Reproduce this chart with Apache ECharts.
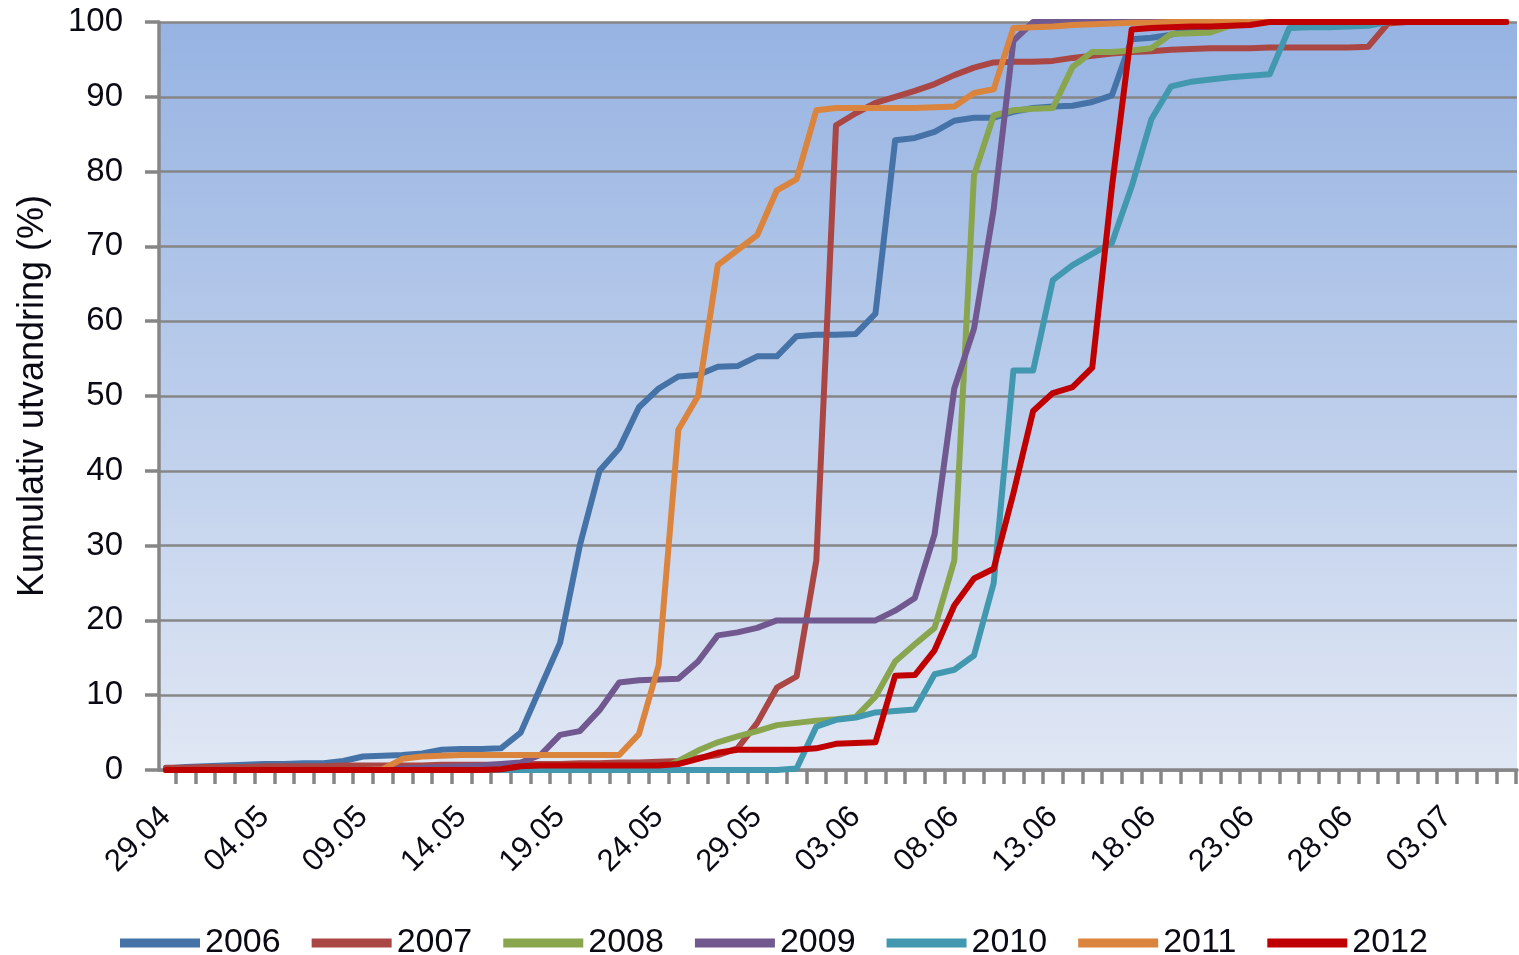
<!DOCTYPE html>
<html>
<head>
<meta charset="utf-8">
<script src="https://cdn.jsdelivr.net/npm/echarts@6/dist/echarts.min.js"></script>
<style>
html,body{margin:0;padding:0;background:#fff;}
#chart{width:1519px;height:955px;}
</style>
</head>
<body>
<div id="chart"></div>
<script>
// x: day index, 0 = 29.04 ... 68 = 06.07
const xLabels = ['29.04','04.05','09.05','14.05','19.05','24.05','29.05','03.06','08.06','13.06','18.06','23.06','28.06','03.07'];
const labelStep = 5;
const years = ['2006','2007','2008','2009','2010','2011','2012'];
const colors = ['#4572a7','#aa4643','#89a54e','#71588f','#4198af','#db843d','#c00000'];
const yTicks = [0,10,20,30,40,50,60,70,80,90,100];

const s2006 = [0.2,0.4,0.5,0.6,0.7,0.8,0.8,0.9,0.9,1.2,1.8,1.9,2.0,2.2,2.7,2.8,2.8,2.9,
  5.0,11,17,30,40,43,48.5,51,52.6,52.8,53.9,
  54,55.3,55.3,58,58.2,58.2,58.3,61,84.2,84.5,
  85.3,86.8,87.2,87.2,88,88.5,88.7,88.8,89.3,90.2,
  97.7,97.9,98.3,99,99.3,99.5,100,100,100,100,
  100,100,100,100,100,100,100,100,100,100];
const s2007 = [0.3,0.3,0.4,0.4,0.4,0.5,0.5,0.5,0.5,0.6,0.6,0.6,0.6,0.6,0.7,0.7,0.7,0.7,0.8,0.8,0.8,0.9,0.9,1.0,1.0,1.1,
  1.2,1.6,2.0,2.9,6.3,11,12.5,28,
  86.2,87.8,89.2,90,90.8,91.7,92.9,93.9,94.6,94.7,
  94.7,94.8,95.2,95.5,95.8,96,96.1,96.3,96.4,96.5,
  96.5,96.5,96.6,96.6,96.6,96.6,96.6,96.7,
  99.8,100,100,100,100,100,100];
const s2008 = [0,0,0,0,0,0,0,0,0,0,0,0,0,0,0,0,0,0,0,0,0,0,0,0,0,
  0.1,1.2,2.6,3.7,4.5,5.2,6.0,6.3,6.6,6.8,
  7.1,9.8,14.5,16.8,19,28,79.5,87.5,88.2,88.4,
  88.5,94,96,96,96.2,96.5,98.4,98.5,98.6,99.5,
  100,100,100,100,100,100,100,100,100,100,100,100,100,100];
const s2009 = [0,0,0,0,0,0,0,0,0,0,0,0.1,0.2,0.3,0.4,0.5,0.6,0.8,
  1.0,2.0,4.7,5.2,8.0,11.7,12.0,12.1,12.2,14.5,
  18,18.4,19,20,20,20,20,20,20,21.3,
  23,31.5,51,59,75,97.5,100,
  100,100,100,100,100,100,100,100,100,100,100,100,100,100,100,100,100,100,100,100,100,100,100,100];
const s2010 = [0,0,0,0,0,0,0,0,0,0,0,0,0,0,0,0,0,0,0,0,0,0,0,0,0,0,0,0,0,0,0,0,
  0.2,5.8,6.7,7.0,7.7,7.9,8.1,12.8,13.4,15.3,
  25,53.4,53.4,65.5,67.5,69,70.5,78,87,91.4,
  92,92.3,92.6,92.8,93,99.2,99.3,99.3,99.4,99.5,
  100,100,100,100,100,100,100];
const s2011 = [0,0,0,0,0,0,0,0,0,0,0,
  0.1,1.5,1.8,1.9,2.0,2.0,2.0,2.0,2.0,2.0,
  2.0,2.0,2.0,4.8,14,45.5,50,67.5,69.5,71.5,
  77.5,79,88.2,88.5,88.5,88.5,88.5,88.5,88.6,88.7,
  90.5,91,99.2,99.3,99.4,99.6,99.7,99.8,99.9,99.9,
  100,100,100,100,100,100,100,100,100,100,100,100,100,100,100,100,100,100];
const s2012 = [0,0,0,0,0,0,0,0,0,0,0,0,0,0,0,0,0,
  0.1,0.5,0.6,0.6,0.6,0.6,0.6,0.6,0.6,0.8,
  1.5,2.3,2.7,2.7,2.7,2.7,2.9,3.5,3.6,3.7,
  12.6,12.7,16,22,25.6,26.9,37,48,50.4,51.2,
  53.8,78,99,99.2,99.3,99.4,99.4,99.5,99.6,100,
  100,100,100,100,100,100,100,100,100,100,100,100];

const allSeries = [s2006,s2007,s2008,s2009,s2010,s2011,s2012];
const nDays = s2006.length;
const tickVals = [];
for (let i = 0; i < nDays; i++) tickVals.push(i + 0.5);
const labelVals = xLabels.map((_, j) => j * labelStep);

const FONT = '"Liberation Sans", Arial, sans-serif';
const TXT = '#0a0a14';
const GRAY = '#868686';

const chart = echarts.init(document.getElementById('chart'), null, {renderer: 'canvas'});
chart.setOption({
  animation: false,
  textStyle: {fontFamily: FONT},
  grid: {
    left: 159, right: 2, top: 22, bottom: 185,
    show: true, borderWidth: 0,
    backgroundColor: {type: 'linear', x: 0, y: 0, x2: 0, y2: 1,
      colorStops: [{offset: 0, color: '#96b3e2'}, {offset: 1, color: '#e0e7f4'}]}
  },
  legend: {
    data: years,
    left: 115, bottom: -10,
    icon: 'rect', itemWidth: 80, itemHeight: 9, itemGap: 31,
    textStyle: {fontSize: 34, color: TXT, fontFamily: FONT}
  },
  xAxis: {
    type: 'value', min: -0.35, max: 68.55,
    splitLine: {show: false},
    axisLine: {show: true, onZero: false, lineStyle: {color: GRAY, width: 3.5}},
    axisTick: {show: true, customValues: tickVals, length: 14, lineStyle: {color: GRAY, width: 3.5}},
    axisLabel: {
      customValues: labelVals, rotate: 45, margin: 42, fontSize: 31, color: TXT, fontFamily: FONT,
      formatter: v => xLabels[Math.round(v / labelStep)]
    }
  },
  yAxis: {
    type: 'value', min: yTicks[0], max: yTicks[yTicks.length - 1], interval: 10,
    name: 'Kumulativ utvandring (%)', nameLocation: 'middle', nameGap: 108,
    nameTextStyle: {fontSize: 36, color: TXT, fontFamily: FONT},
    axisLine: {show: true, onZero: false, lineStyle: {color: GRAY, width: 3.5}},
    axisTick: {show: true, length: 14, lineStyle: {color: GRAY, width: 3.5}},
    axisLabel: {margin: 36, fontSize: 33, color: TXT, fontFamily: FONT},
    splitLine: {show: true, lineStyle: {color: GRAY, width: 2.5}}
  },
  series: years.map((y, j) => ({
    name: y, type: 'line',
    data: allSeries[j].map((v, i) => [i, v]),
    showSymbol: false, symbol: 'none',
    color: colors[j],
    lineStyle: {width: 6, color: colors[j], cap: 'round', join: 'round'}
  }))
});
</script>
</body>
</html>
